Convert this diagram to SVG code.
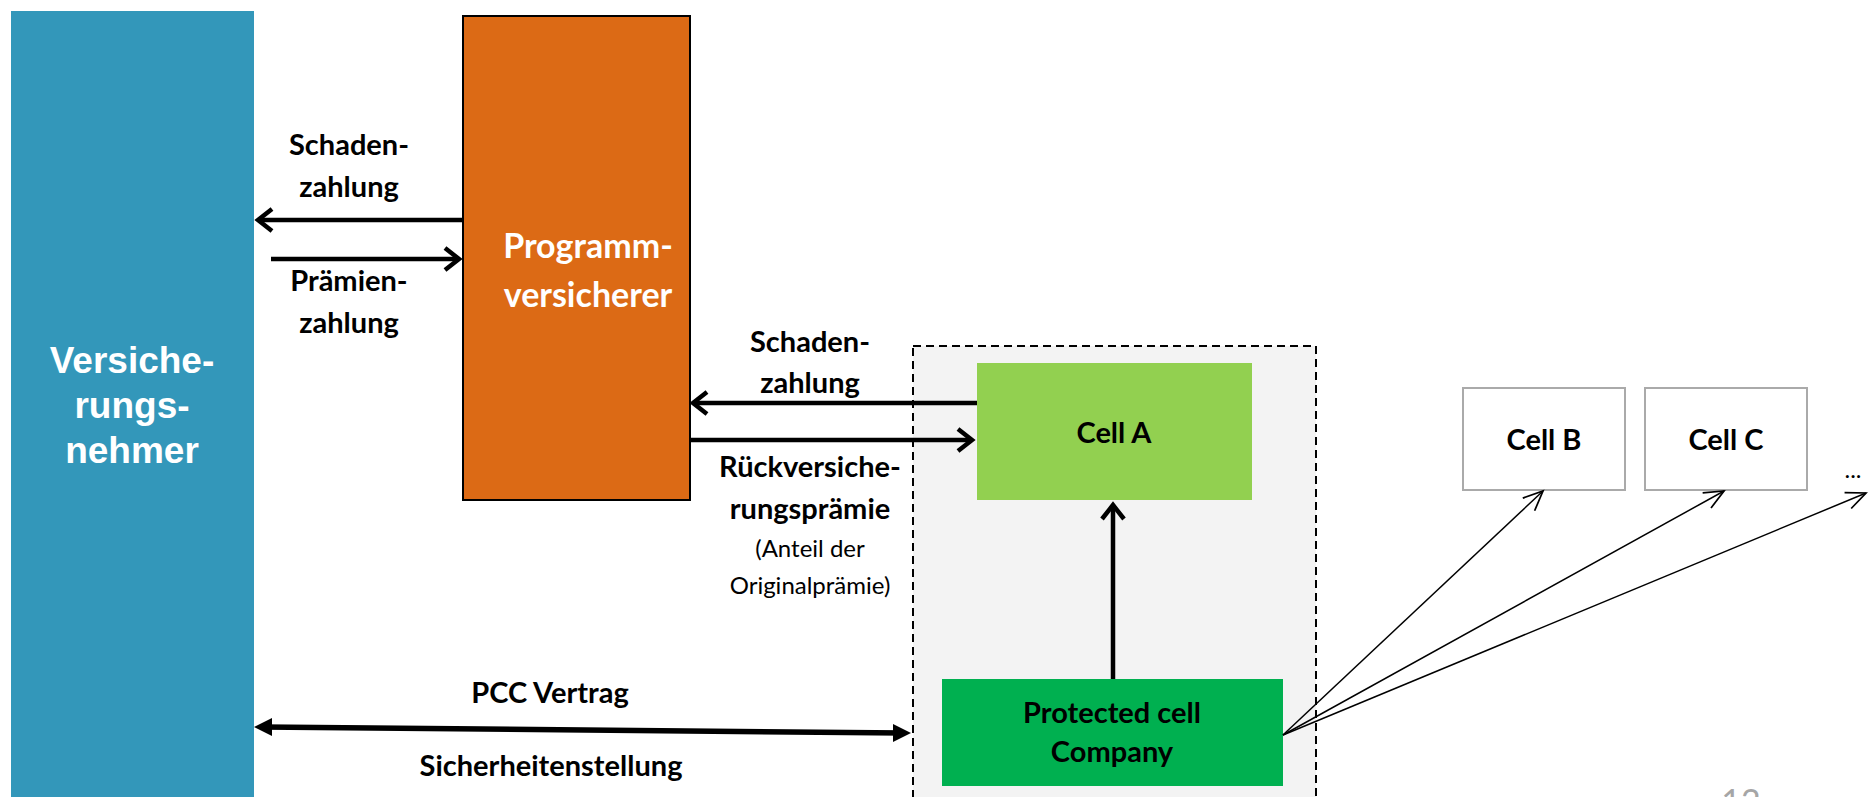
<svg xmlns="http://www.w3.org/2000/svg" width="1868" height="797" viewBox="0 0 1868 797">
<style>
.lbl{font-family:Lato,"Open Sans","Liberation Sans",sans-serif;font-weight:bold;font-size:29px;fill:#000;text-anchor:middle}
.sm{font-family:Lato,"Open Sans","Liberation Sans",sans-serif;font-weight:normal;font-size:24px;fill:#000;text-anchor:middle}
.wh{font-family:Lato,"Open Sans","Liberation Sans",sans-serif;font-weight:bold;font-size:34px;fill:#fff;text-anchor:middle}
.wa{font-family:"Liberation Sans",Arial,sans-serif;font-weight:bold;font-size:37px;fill:#fff;text-anchor:middle}
.thick{stroke:#000;stroke-width:4.5;fill:none}
.thin{stroke:#000;stroke-width:1.5;fill:none}
</style>
<defs>
<marker id="chev" markerUnits="userSpaceOnUse" markerWidth="30" markerHeight="30" viewBox="-20 -15 24 30" refX="0" refY="0" orient="auto">
<path d="M-14,-11 L0,0 L-14,11" fill="none" stroke="#000" stroke-width="4.5" stroke-linejoin="miter"/>
</marker>
<marker id="chevThin" markerUnits="userSpaceOnUse" markerWidth="30" markerHeight="30" viewBox="-22 -12 26 24" refX="0" refY="0" orient="auto">
<path d="M-17,-7.5 L0,0 L-17,7.5" fill="none" stroke="#000" stroke-width="1.5"/>
</marker>
<marker id="tri" markerUnits="userSpaceOnUse" markerWidth="24" markerHeight="24" viewBox="-18 -10 20 20" refX="0" refY="0" orient="auto-start-reverse">
<path d="M-18,-9 L0,0 L-18,9 Z" fill="#000"/>
</marker>
</defs>
<rect width="1868" height="797" fill="#fff"/>

<g id="pcc-container">
<rect x="913" y="346" width="403" height="460" fill="#f3f3f3" stroke="#000" stroke-width="2" stroke-dasharray="8,5"/>
</g>

<g id="versicherungsnehmer">
<rect x="11" y="11" width="243" height="790" fill="#3397ba"/>
<text class="wa" x="132" y="373">Versiche-</text>
<text class="wa" x="132" y="418">rungs-</text>
<text class="wa" x="132" y="463">nehmer</text>
</g>

<g id="programmversicherer">
<rect x="463" y="16" width="227" height="484" fill="#dc6a15" stroke="#000" stroke-width="2"/>
<text class="wh" x="588" y="258">Programm-</text>
<text class="wh" x="588" y="307">versicherer</text>
</g>

<g id="cellA">
<rect x="977" y="363" width="275" height="137" fill="#92d050"/>
<text class="lbl" x="1114" y="443">Cell A</text>
</g>

<g id="pcc">
<rect x="942" y="679" width="341" height="107" fill="#00b050"/>
<text class="lbl" x="1112" y="723">Protected cell</text>
<text class="lbl" x="1112" y="762">Company</text>
</g>

<g id="cellB">
<rect x="1463" y="388" width="162" height="102" fill="#fff" stroke="#aaaaaa" stroke-width="2"/>
<text class="lbl" x="1544" y="450">Cell B</text>
</g>

<g id="cellC">
<rect x="1645" y="388" width="162" height="102" fill="#fff" stroke="#aaaaaa" stroke-width="2"/>
<text class="lbl" x="1726" y="450">Cell C</text>
</g>

<g id="more">
<text class="sm" x="1853" y="478" font-size="20">...</text>
</g>

<g id="connectors">
<line class="thick" x1="463" y1="220" x2="258" y2="220" marker-end="url(#chev)"/>
<line class="thick" x1="271" y1="259" x2="459" y2="259" marker-end="url(#chev)"/>
<line class="thick" x1="977" y1="403" x2="693" y2="403" marker-end="url(#chev)"/>
<line class="thick" x1="690" y1="440" x2="972" y2="440" marker-end="url(#chev)"/>
<line class="thick" x1="1113" y1="679" x2="1113" y2="505" marker-end="url(#chev)"/>
<line x1="262" y1="727" x2="903" y2="733" stroke="#000" stroke-width="5.5"/>
<path d="M254,727 L272,718 L272,736 Z" fill="#000"/>
<path d="M911,733 L893,724 L893,742 Z" fill="#000"/>
<line class="thin" x1="1283" y1="735" x2="1543" y2="491" marker-end="url(#chevThin)"/>
<line class="thin" x1="1283" y1="735" x2="1724" y2="491" marker-end="url(#chevThin)"/>
<line class="thin" x1="1283" y1="735" x2="1866" y2="493" marker-end="url(#chevThin)"/>
</g>

<g id="labels">
<text class="lbl" x="349" y="155">Schaden-</text>
<text class="lbl" x="349" y="197">zahlung</text>
<text class="lbl" x="349" y="291">Prämien-</text>
<text class="lbl" x="349" y="333">zahlung</text>
<text class="lbl" x="810" y="352">Schaden-</text>
<text class="lbl" x="810" y="393">zahlung</text>
<text class="lbl" x="810" y="477">Rückversiche-</text>
<text class="lbl" x="810" y="519">rungsprämie</text>
<text class="sm" x="810" y="557">(Anteil der</text>
<text class="sm" x="810" y="594">Originalprämie)</text>
<text class="lbl" x="550" y="703">PCC Vertrag</text>
<text class="lbl" x="551" y="776">Sicherheitenstellung</text>
<text x="1741" y="814" font-family="Lato,'Open Sans',sans-serif" font-size="34" fill="#a6a6a6" text-anchor="middle">12</text>
</g>
</svg>
